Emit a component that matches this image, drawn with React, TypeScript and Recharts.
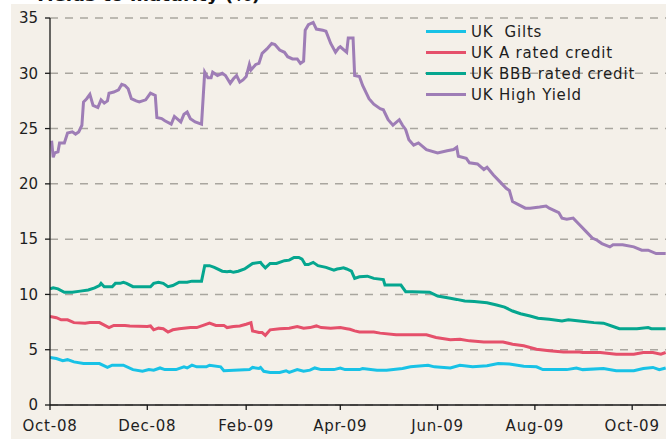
import React from "react";
import { LineChart, Line, XAxis, YAxis, CartesianGrid, Legend } from "recharts";

// ---- Data ----
const tickDates = ["2008-10-01", "2008-12-01", "2009-02-01", "2009-04-01", "2009-06-01", "2009-08-01", "2009-10-01"];
const tickLabels = ["Oct-08", "Dec-08", "Feb-09", "Apr-09", "Jun-09", "Aug-09", "Oct-09"];
const yTicks = [0, 5, 10, 15, 20, 25, 30, 35];

const seriesNames = ["UK  Gilts", "UK A rated credit", "UK BBB rated credit", "UK High Yield"];
const seriesColors = ["#18c2e6", "#e5506b", "#05a68f", "#9e7db6"];

const gilts: [string, number][] = [
  ["2008-10-01", 4.3], ["2008-10-05", 4.2], ["2008-10-09", 4.0], ["2008-10-12", 4.1], ["2008-10-16", 3.9],
  ["2008-10-22", 3.75], ["2008-11-01", 3.75], ["2008-11-06", 3.4], ["2008-11-09", 3.6], ["2008-11-16", 3.6],
  ["2008-11-22", 3.2], ["2008-11-28", 3.05], ["2008-12-02", 3.2], ["2008-12-05", 3.15], ["2008-12-09", 3.35],
  ["2008-12-12", 3.2], ["2008-12-19", 3.2], ["2008-12-24", 3.45], ["2008-12-26", 3.35], ["2008-12-29", 3.6],
  ["2009-01-01", 3.45], ["2009-01-07", 3.45], ["2009-01-09", 3.6], ["2009-01-16", 3.45], ["2009-01-18", 3.1],
  ["2009-02-03", 3.2], ["2009-02-05", 3.4], ["2009-02-09", 3.3], ["2009-02-10", 3.4], ["2009-02-12", 3.05],
  ["2009-02-16", 2.95], ["2009-02-22", 2.95], ["2009-02-26", 3.1], ["2009-02-28", 2.95], ["2009-03-05", 3.2],
  ["2009-03-09", 3.05], ["2009-03-13", 3.15], ["2009-03-16", 3.35], ["2009-03-20", 3.2], ["2009-03-28", 3.2],
  ["2009-04-01", 3.35], ["2009-04-04", 3.2], ["2009-04-13", 3.2], ["2009-04-15", 3.3], ["2009-04-24", 3.15],
  ["2009-04-30", 3.15], ["2009-05-10", 3.3], ["2009-05-15", 3.45], ["2009-05-26", 3.6], ["2009-05-30", 3.45],
  ["2009-06-09", 3.35], ["2009-06-15", 3.6], ["2009-06-23", 3.45], ["2009-07-02", 3.55], ["2009-07-09", 3.75],
  ["2009-07-16", 3.7], ["2009-07-25", 3.5], ["2009-08-02", 3.45], ["2009-08-06", 3.2], ["2009-08-10", 3.2],
  ["2009-08-21", 3.2], ["2009-08-27", 3.35], ["2009-08-31", 3.2], ["2009-09-13", 3.3], ["2009-09-21", 3.1],
  ["2009-10-02", 3.1], ["2009-10-08", 3.3], ["2009-10-14", 3.4], ["2009-10-18", 3.2], ["2009-10-22", 3.35],
];

const aRated: [string, number][] = [
  ["2008-10-01", 8.0], ["2008-10-05", 7.9], ["2008-10-08", 7.7], ["2008-10-12", 7.7], ["2008-10-16", 7.45],
  ["2008-10-23", 7.4], ["2008-10-26", 7.45], ["2008-11-01", 7.45], ["2008-11-07", 7.0], ["2008-11-10", 7.2],
  ["2008-11-17", 7.2], ["2008-11-20", 7.15], ["2008-12-01", 7.1], ["2008-12-03", 7.15], ["2008-12-05", 6.8],
  ["2008-12-08", 6.95], ["2008-12-11", 6.9], ["2008-12-14", 6.6], ["2008-12-17", 6.8], ["2008-12-21", 6.9],
  ["2008-12-28", 7.0], ["2009-01-01", 7.0], ["2009-01-05", 7.2], ["2009-01-09", 7.4], ["2009-01-13", 7.2],
  ["2009-01-18", 7.2], ["2009-01-20", 7.0], ["2009-01-24", 7.1], ["2009-01-28", 7.15], ["2009-02-01", 7.3],
  ["2009-02-04", 7.45], ["2009-02-05", 6.7], ["2009-02-09", 6.55], ["2009-02-11", 6.55], ["2009-02-13", 6.3],
  ["2009-02-16", 6.8], ["2009-02-22", 6.9], ["2009-02-28", 6.95], ["2009-03-05", 7.1], ["2009-03-09", 6.95],
  ["2009-03-13", 7.0], ["2009-03-17", 7.15], ["2009-03-20", 7.0], ["2009-03-26", 6.95], ["2009-04-01", 7.0],
  ["2009-04-05", 6.9], ["2009-04-07", 6.85], ["2009-04-10", 6.7], ["2009-04-13", 6.6], ["2009-04-22", 6.6],
  ["2009-04-26", 6.5], ["2009-05-06", 6.35], ["2009-05-15", 6.35], ["2009-05-25", 6.35], ["2009-05-31", 6.1],
  ["2009-06-09", 5.9], ["2009-06-15", 5.95], ["2009-06-21", 5.8], ["2009-06-30", 5.7], ["2009-07-12", 5.7],
  ["2009-07-18", 5.5], ["2009-07-25", 5.35], ["2009-08-02", 5.05], ["2009-08-10", 4.9], ["2009-08-19", 4.8],
  ["2009-08-29", 4.8], ["2009-08-31", 4.75], ["2009-09-11", 4.75], ["2009-09-21", 4.6], ["2009-10-02", 4.6],
  ["2009-10-08", 4.75], ["2009-10-14", 4.75], ["2009-10-19", 4.6], ["2009-10-22", 4.75],
];

const bbbRated: [string, number][] = [
  ["2008-10-01", 10.5], ["2008-10-03", 10.6], ["2008-10-06", 10.5], ["2008-10-10", 10.2], ["2008-10-15", 10.2],
  ["2008-10-20", 10.3], ["2008-10-25", 10.4], ["2008-10-29", 10.6], ["2008-11-01", 10.8], ["2008-11-02", 11.0],
  ["2008-11-04", 10.7], ["2008-11-09", 10.7], ["2008-11-11", 11.0], ["2008-11-14", 11.0], ["2008-11-16", 11.1],
  ["2008-11-18", 11.0], ["2008-11-22", 10.7], ["2008-12-03", 10.7], ["2008-12-05", 11.0], ["2008-12-08", 11.1],
  ["2008-12-11", 11.0], ["2008-12-14", 10.7], ["2008-12-17", 10.8], ["2008-12-21", 11.1], ["2008-12-26", 11.1],
  ["2008-12-29", 11.2], ["2009-01-04", 11.2], ["2009-01-06", 12.6], ["2009-01-09", 12.6], ["2009-01-12", 12.45],
  ["2009-01-17", 12.1], ["2009-01-20", 12.05], ["2009-01-22", 12.1], ["2009-01-24", 12.0], ["2009-01-27", 12.1],
  ["2009-01-31", 12.3], ["2009-02-02", 12.5], ["2009-02-05", 12.8], ["2009-02-10", 12.9], ["2009-02-11", 12.7],
  ["2009-02-13", 12.4], ["2009-02-16", 12.8], ["2009-02-20", 12.8], ["2009-02-25", 13.05], ["2009-02-28", 13.1],
  ["2009-03-03", 13.35], ["2009-03-06", 13.35], ["2009-03-08", 13.2], ["2009-03-10", 12.7], ["2009-03-12", 12.7],
  ["2009-03-15", 12.9], ["2009-03-18", 12.6], ["2009-03-23", 12.45], ["2009-03-28", 12.2], ["2009-03-30", 12.3],
  ["2009-04-01", 12.35], ["2009-04-03", 12.4], ["2009-04-05", 12.3], ["2009-04-08", 12.1], ["2009-04-10", 11.45],
  ["2009-04-13", 11.6], ["2009-04-18", 11.65], ["2009-04-22", 11.45], ["2009-04-28", 11.35], ["2009-04-29", 10.85],
  ["2009-05-09", 10.85], ["2009-05-12", 10.25], ["2009-05-16", 10.25], ["2009-05-27", 10.2], ["2009-06-01", 9.85],
  ["2009-06-09", 9.65], ["2009-06-13", 9.55], ["2009-06-18", 9.4], ["2009-06-24", 9.35], ["2009-07-02", 9.25],
  ["2009-07-08", 9.05], ["2009-07-13", 8.85], ["2009-07-18", 8.5], ["2009-07-23", 8.25], ["2009-07-29", 8.05],
  ["2009-08-03", 7.85], ["2009-08-10", 7.75], ["2009-08-18", 7.6], ["2009-08-22", 7.7], ["2009-08-29", 7.6],
  ["2009-09-07", 7.45], ["2009-09-13", 7.4], ["2009-09-19", 7.1], ["2009-09-23", 6.9], ["2009-10-04", 6.9],
  ["2009-10-11", 7.0], ["2009-10-13", 6.9], ["2009-10-22", 6.9],
];

const highYield: [string, number][] = [
  ["2008-10-02", 23.9], ["2008-10-03", 22.4], ["2008-10-04", 22.8], ["2008-10-06", 22.9], ["2008-10-07", 23.7],
  ["2008-10-10", 23.7], ["2008-10-12", 24.6], ["2008-10-15", 24.7], ["2008-10-17", 24.5], ["2008-10-19", 24.7],
  ["2008-10-21", 25.3], ["2008-10-22", 27.4], ["2008-10-24", 27.7], ["2008-10-26", 28.1], ["2008-10-28", 27.1],
  ["2008-10-31", 26.9], ["2008-11-02", 27.6], ["2008-11-04", 27.3], ["2008-11-06", 27.5], ["2008-11-07", 28.2],
  ["2008-11-10", 28.3], ["2008-11-13", 28.5], ["2008-11-15", 29.0], ["2008-11-17", 28.9], ["2008-11-19", 28.6],
  ["2008-11-21", 27.7], ["2008-11-24", 27.5], ["2008-11-26", 27.4], ["2008-11-30", 27.6], ["2008-12-02", 28.0],
  ["2008-12-03", 28.2], ["2008-12-06", 28.0], ["2008-12-07", 26.0], ["2008-12-10", 25.9], ["2008-12-12", 25.7],
  ["2008-12-16", 25.4], ["2008-12-18", 26.1], ["2008-12-22", 25.6], ["2008-12-24", 26.3], ["2008-12-26", 26.5],
  ["2008-12-28", 25.9], ["2008-12-31", 25.6], ["2009-01-04", 25.4], ["2009-01-06", 30.1], ["2009-01-08", 29.6],
  ["2009-01-10", 29.6], ["2009-01-11", 30.1], ["2009-01-14", 29.8], ["2009-01-17", 30.0], ["2009-01-19", 29.8],
  ["2009-01-22", 29.1], ["2009-01-24", 29.5], ["2009-01-26", 29.8], ["2009-01-28", 29.2], ["2009-01-30", 29.4],
  ["2009-02-01", 29.7], ["2009-02-03", 30.8], ["2009-02-04", 30.3], ["2009-02-07", 30.8], ["2009-02-09", 30.9],
  ["2009-02-11", 31.8], ["2009-02-14", 32.2], ["2009-02-17", 32.7], ["2009-02-19", 32.6], ["2009-02-22", 32.1],
  ["2009-02-25", 31.9], ["2009-02-27", 31.5], ["2009-03-02", 31.3], ["2009-03-05", 31.3], ["2009-03-07", 30.9],
  ["2009-03-09", 31.1], ["2009-03-10", 33.9], ["2009-03-12", 34.4], ["2009-03-15", 34.6], ["2009-03-17", 34.0],
  ["2009-03-21", 33.9], ["2009-03-23", 33.8], ["2009-03-26", 32.7], ["2009-03-29", 31.9], ["2009-03-31", 32.3],
  ["2009-04-01", 32.4], ["2009-04-05", 31.9], ["2009-04-06", 33.2], ["2009-04-09", 33.2], ["2009-04-10", 29.8],
  ["2009-04-13", 29.7], ["2009-04-15", 28.9], ["2009-04-19", 27.7], ["2009-04-22", 27.2], ["2009-04-26", 26.8],
  ["2009-04-28", 26.7], ["2009-05-01", 25.8], ["2009-05-04", 25.3], ["2009-05-08", 25.8], ["2009-05-10", 25.3],
  ["2009-05-12", 24.9], ["2009-05-14", 24.0], ["2009-05-17", 23.5], ["2009-05-20", 23.7], ["2009-05-25", 23.1],
  ["2009-06-01", 22.8], ["2009-06-07", 23.0], ["2009-06-11", 23.1], ["2009-06-13", 23.3], ["2009-06-14", 22.5],
  ["2009-06-19", 22.3], ["2009-06-21", 21.9], ["2009-06-26", 21.8], ["2009-06-30", 21.3], ["2009-07-02", 21.5],
  ["2009-07-06", 20.8], ["2009-07-10", 20.2], ["2009-07-14", 19.6], ["2009-07-16", 19.4], ["2009-07-18", 18.4],
  ["2009-07-22", 18.1], ["2009-07-26", 17.8], ["2009-07-29", 17.8], ["2009-08-04", 17.9], ["2009-08-08", 18.0],
  ["2009-08-10", 17.8], ["2009-08-16", 17.4], ["2009-08-18", 16.9], ["2009-08-21", 16.8], ["2009-08-25", 16.9],
  ["2009-08-29", 16.3], ["2009-09-02", 15.7], ["2009-09-06", 15.1], ["2009-09-09", 14.9], ["2009-09-12", 14.6],
  ["2009-09-17", 14.3], ["2009-09-19", 14.5], ["2009-09-25", 14.5], ["2009-10-02", 14.3], ["2009-10-07", 14.0],
  ["2009-10-11", 14.0], ["2009-10-16", 13.7], ["2009-10-22", 13.7],
];

const seriesData = [gilts, aRated, bbbRated, highYield];

// ---- Helpers ----
const DAY = 86400000;
const toRows = (arr: [string, number][]) => arr.map(([d, v]) => ({ t: Date.parse(d), v }));
const xStart = Date.parse("2008-10-01");
const xEnd = Date.parse("2009-10-22") + 0.2 * DAY;
const xTicks = tickDates.map((d) => Date.parse(d));
const labelFor = (t: number) => {
  const i = xTicks.indexOf(t);
  return i >= 0 ? tickLabels[i] : "";
};

const FONT = "'DejaVu Sans', Verdana, sans-serif";

const renderLegend = () => (
  <div style={{ fontFamily: FONT, fontSize: 15, letterSpacing: 0.8, color: "#1e1e1e", textAlign: "left" }}>
    {seriesNames.map((name, i) => (
      <div key={name} style={{ display: "flex", alignItems: "center", height: 21 }}>
        <span style={{ display: "inline-block", width: 40, height: 3, background: seriesColors[i], marginRight: 5 }} />
        <span style={{ whiteSpace: "pre" }}>{name}</span>
      </div>
    ))}
  </div>
);

export default function App() {
  return (
    <div style={{ position: "absolute", left: 0, top: 0, width: 666, height: 439, background: "#ffffff", overflow: "hidden" }}>
      <div style={{ position: "absolute", left: 11, top: 4, right: 0, bottom: 0, background: "#f4f0e9" }} />
      <svg width={666} height={439} style={{ position: "absolute", left: 0, top: 0 }}>
        <text x={34} y={1} fontFamily={FONT} fontSize={16} fontWeight="bold" fill="#111" textLength={226} lengthAdjust="spacingAndGlyphs">
          Yields to maturity (%)
        </text>
      </svg>
      <div style={{ position: "absolute", left: 0, top: 0 }}>
        <LineChart width={666} height={439} margin={{ top: 18, right: 0, left: 0, bottom: 0 }}>
          <CartesianGrid vertical={false} stroke="#a9a69f" strokeWidth={1.5} strokeDasharray="8 7" />
          <XAxis
            dataKey="t"
            type="number"
            domain={[xStart, xEnd]}
            allowDataOverflow
            ticks={xTicks}
            tickFormatter={labelFor}
            height={34}
            tickSize={5}
            tickMargin={10}
            axisLine={{ stroke: "#1a1a1a", strokeWidth: 1.3 }}
            tickLine={{ stroke: "#1a1a1a", strokeWidth: 1.3 }}
            tick={{ fill: "#1e1e1e", fontSize: 15, fontFamily: FONT, letterSpacing: 0.8 }}
          />
          <YAxis
            type="number"
            domain={[0, 35]}
            ticks={yTicks}
            width={50}
            tickSize={5}
            tickMargin={7}
            interval={0}
            axisLine={{ stroke: "#1a1a1a", strokeWidth: 1.3 }}
            tickLine={{ stroke: "#1a1a1a", strokeWidth: 1.3 }}
            tick={{ fill: "#1e1e1e", fontSize: 15, fontFamily: FONT }}
          />
          <Legend
            layout="horizontal"
            verticalAlign="middle"
            align="center"
            content={renderLegend}
            wrapperStyle={{ position: "absolute", left: 426, top: 21, width: 240 }}
          />
          {seriesData.map((arr, i) => (
            <Line
              key={seriesNames[i]}
              data={toRows(arr)}
              dataKey="v"
              name={seriesNames[i]}
              type="linear"
              stroke={seriesColors[i]}
              strokeWidth={3}
              dot={false}
              activeDot={false}
              isAnimationActive={false}
            />
          ))}
        </LineChart>
      </div>
    </div>
  );
}
